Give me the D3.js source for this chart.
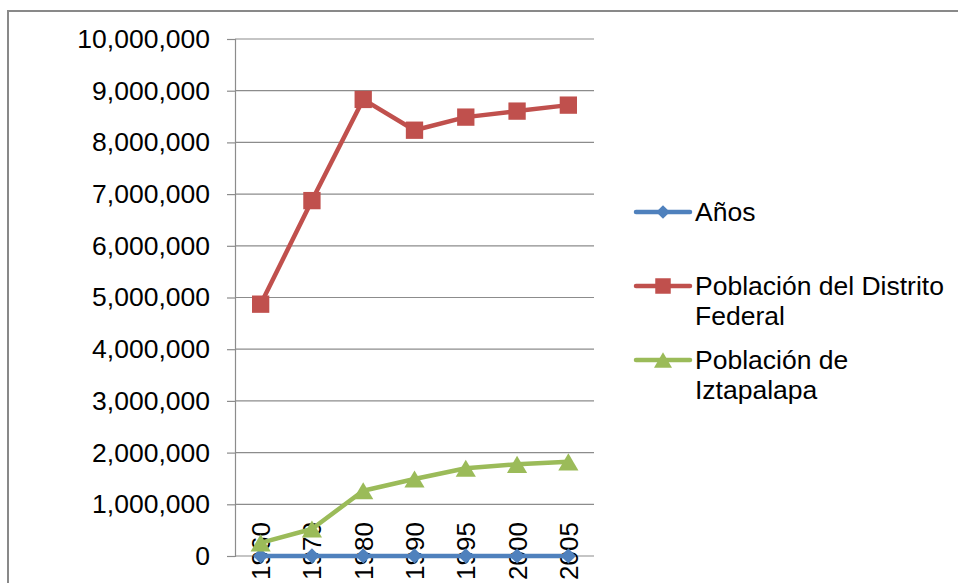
<!DOCTYPE html>
<html><head><meta charset="utf-8">
<script src="https://cdn.jsdelivr.net/npm/d3@7"></script>
<style>body{margin:0;background:#fff;}svg{display:block;font-family:"Liberation Sans",Arial,sans-serif;}</style>
</head><body>
<svg id="c" width="958" height="583"></svg>
<script>
const years = ["1960","1970","1980","1990","1995","2000","2005"];
const anos = [1960,1970,1980,1990,1995,2000,2005];
const poblacionDF = [4870876,6874165,8831079,8235744,8489007,8605239,8720916];
const poblacionIztapalapa = [254355,522095,1262354,1490499,1696609,1773343,1820888];
const yTicks = [0,1000000,2000000,3000000,4000000,5000000,6000000,7000000,8000000,9000000,10000000];
const seriesNames = ["Años","Población del Distrito Federal","Población de Iztapalapa"];
const seriesColors = ["#4F81BD","#C0504D","#9BBB59"];

const svg = d3.select("#c");
svg.append("rect").attr("x",8).attr("y",11).attr("width",1000).attr("height",620)
  .attr("fill","#fff").attr("stroke","#898989").attr("stroke-width",2);

const L=235,R=594,T=39,B=556;
const x = d3.scalePoint().domain(years).range([L,R]).padding(0.5);
const y = d3.scaleLinear().domain([0,10000000]).range([B,T]);

// gridlines
svg.append("g").selectAll("line").data(yTicks.slice(1)).join("line")
  .attr("x1",L).attr("x2",R).attr("y1",d=>y(d)).attr("y2",d=>y(d))
  .attr("stroke","#8c8c8c").attr("stroke-width",1.2);

// y axis
const yAxis = d3.axisLeft(y).tickValues(yTicks).tickSize(8).tickPadding(17)
  .tickFormat(d3.format(","));
const gy = svg.append("g").attr("transform",`translate(${L},0)`).call(yAxis);
gy.select(".domain").attr("stroke","#8c8c8c").attr("stroke-width",1.2);
gy.selectAll(".tick line").attr("stroke","#8c8c8c").attr("stroke-width",1.2);
gy.selectAll("text").attr("font-size",26.5).attr("fill","#000").attr("font-family","Liberation Sans, Arial, sans-serif");

// x axis line
svg.append("line").attr("x1",L).attr("x2",R).attr("y1",B).attr("y2",B).attr("stroke","#8c8c8c").attr("stroke-width",1.2);

// x labels (rotated)
svg.append("g").selectAll("text").data(years).join("text")
  .attr("transform",d=>`translate(${x(d)+9.5},580) rotate(-90)`)
  .attr("font-size",26).attr("fill","#000").text(d=>d);

const tri = {draw(ctx,size){const w=Math.sqrt(size)*1.25,h=w*0.85;ctx.moveTo(0,-h/2);ctx.lineTo(w/2,h/2);ctx.lineTo(-w/2,h/2);ctx.closePath();}};
const line = d3.line().x((d,i)=>x(years[i])).y(d=>y(d));
const datasets = [anos,poblacionDF,poblacionIztapalapa];
const symbols = [d3.symbolDiamond2, d3.symbolSquare, tri];
const sizes = [150,300,260];

datasets.forEach((data,k)=>{
  svg.append("path").datum(data).attr("d",line).attr("fill","none")
    .attr("stroke",seriesColors[k]).attr("stroke-width",4.5).attr("stroke-linejoin","round");
  svg.append("g").selectAll("path").data(data).join("path")
    .attr("transform",(d,i)=>`translate(${x(years[i])},${y(d)})`)
    .attr("d",d3.symbol().type(symbols[k]).size(sizes[k])).attr("fill",seriesColors[k]);
});

// legend
const legendY = [212,286,360];
const legendLines = [["Años"],["Población del Distrito","Federal"],["Población de","Iztapalapa"]];
const lg = svg.append("g");
legendLines.forEach((lines,k)=>{
  lg.append("line").attr("x1",636).attr("x2",690).attr("y1",legendY[k]).attr("y2",legendY[k])
    .attr("stroke",seriesColors[k]).attr("stroke-width",4.5).attr("stroke-linecap","round");
  lg.append("path").attr("transform",`translate(663,${legendY[k]})`)
    .attr("d",d3.symbol().type(symbols[k]).size(sizes[k]*0.8)).attr("fill",seriesColors[k]);
  lines.forEach((t,j)=>{
    lg.append("text").attr("x",695).attr("y",legendY[k]+9+j*30).attr("font-size",26.5)
      .attr("fill","#000").text(t);
  });
});
</script>
</body></html>
